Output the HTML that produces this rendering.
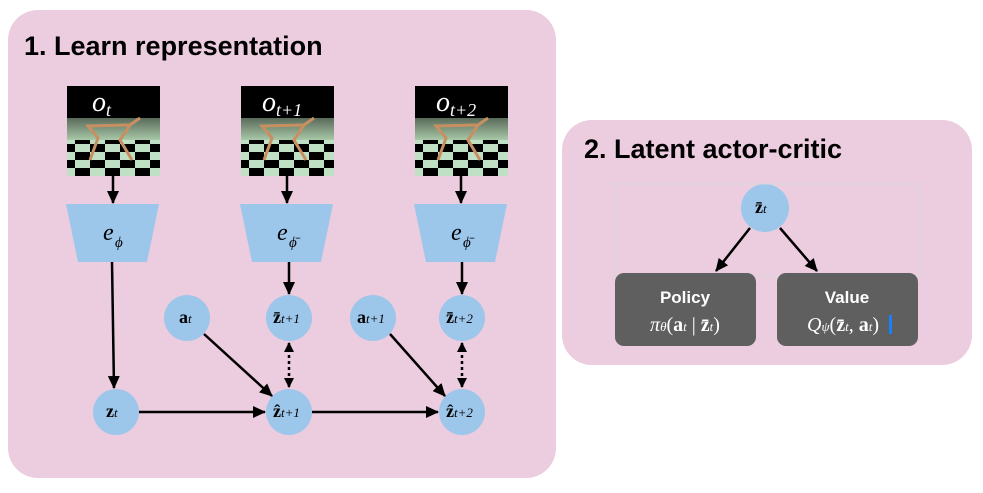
<!DOCTYPE html><html><head><style>body{margin:0;background:#fff}svg{display:block}</style></head><body>
<svg width="983" height="493" viewBox="0 0 983 493" xmlns="http://www.w3.org/2000/svg" font-family="Liberation Serif, serif">
<defs><marker id="ah" markerWidth="13" markerHeight="12" refX="12" refY="6" orient="auto" markerUnits="userSpaceOnUse"><path d="M0,0 L13,6 L0,12 z" fill="#000"/></marker>
<marker id="ah2" markerWidth="10" markerHeight="10" refX="9" refY="5" orient="auto-start-reverse" markerUnits="userSpaceOnUse"><path d="M0,0 L10,5 L0,10 z" fill="#000"/></marker>
<linearGradient id="fl" x1="0" y1="0" x2="0" y2="1"><stop offset="0" stop-color="#5a6a5a"/><stop offset="1" stop-color="#a8c8a8"/></linearGradient>
<pattern id="ck" width="30" height="16" patternUnits="userSpaceOnUse"><rect width="30" height="16" fill="#bfe0c4"/><rect width="15" height="8" fill="#000"/><rect x="15" y="8" width="15" height="8" fill="#000"/></pattern></defs>
<rect x="8" y="10" width="548" height="468" rx="30" fill="#ecccdf"/>
<rect x="562" y="120" width="410" height="245" rx="30" fill="#ecccdf"/>
<text x="24" y="55" font-family="Liberation Sans, sans-serif" font-weight="bold" font-size="27">1. Learn representation</text>
<text x="584" y="158" font-family="Liberation Sans, sans-serif" font-weight="bold" font-size="27">2. Latent actor-critic</text>
<g id="img">
<rect x="67" y="86" width="93" height="90" fill="#000"/>
<rect x="67" y="118" width="93" height="22" fill="url(#fl)"/>
<rect x="67" y="140" width="93" height="36" fill="url(#ck)"/>
<path d="M90,160 L98,138 L88,126 L130,125 L140,118 M130,125 L120,140 L132,160" stroke="#c89060" stroke-width="3" fill="none"/>
</g>
<use href="#img" x="174"/><use href="#img" x="348"/>
<g fill="#fff" font-style="italic" font-size="28"><text x="92" y="111">o</text><text x="106" y="116" font-size="18">t</text>
<text x="262" y="111">o</text><text x="276" y="116" font-size="18">t+1</text>
<text x="436" y="111">o</text><text x="450" y="116" font-size="18">t+2</text></g>
<g fill="#9dc6eb"><path d="M66,204 L159,204 L147,262 L78,262z"/><path d="M240,204 L333,204 L321,262 L252,262z"/><path d="M414,204 L507,204 L495,262 L426,262z"/>
<circle cx="116" cy="412" r="23"/><circle cx="187" cy="318" r="23"/><circle cx="289" cy="318" r="23"/><circle cx="289" cy="412" r="23"/><circle cx="373" cy="318" r="23"/><circle cx="462" cy="318" r="23"/><circle cx="462" cy="412" r="23"/><circle cx="765" cy="208" r="24"/></g>
<g font-style="italic" font-size="24"><text x="103" y="240">e</text><text x="115" y="247" font-size="15">ϕ</text>
<text x="277" y="240">e</text><text x="289" y="247" font-size="15">ϕ̄</text>
<text x="451" y="240">e</text><text x="463" y="247" font-size="15">ϕ̄</text></g>
<g font-size="18" font-weight="bold"><text x="106" y="417">z<tspan font-size="13" font-style="italic" font-weight="normal">t</tspan></text>
<text x="179" y="323">a<tspan font-size="13" font-style="italic" font-weight="normal">t</tspan></text>
<text x="273" y="323">z̄<tspan font-size="13" font-style="italic" font-weight="normal">t+1</tspan></text>
<text x="273" y="417">ẑ<tspan font-size="13" font-style="italic" font-weight="normal">t+1</tspan></text>
<text x="357" y="323">a<tspan font-size="13" font-style="italic" font-weight="normal">t+1</tspan></text>
<text x="446" y="323">z̄<tspan font-size="13" font-style="italic" font-weight="normal">t+2</tspan></text>
<text x="446" y="417">ẑ<tspan font-size="13" font-style="italic" font-weight="normal">t+2</tspan></text>
<text x="755" y="213">z̄<tspan font-size="13" font-style="italic" font-weight="normal">t</tspan></text></g>
<g stroke="#000" stroke-width="2.5" marker-end="url(#ah)">
<line x1="113" y1="176" x2="113" y2="203"/><line x1="287" y1="176" x2="287" y2="203"/><line x1="461" y1="176" x2="461" y2="203"/>
<line x1="112" y1="262" x2="114" y2="388"/><line x1="289" y1="262" x2="289" y2="294"/><line x1="462" y1="262" x2="462" y2="294"/>
<line x1="139" y1="412" x2="265" y2="412"/><line x1="312" y1="412" x2="438" y2="412"/>
<line x1="204" y1="334" x2="272" y2="396"/><line x1="390" y1="334" x2="445" y2="396"/>
<line x1="750" y1="228" x2="716" y2="271"/><line x1="780" y1="228" x2="817" y2="271"/></g>
<g stroke="#000" stroke-width="2.5" stroke-dasharray="3,3" marker-end="url(#ah2)" marker-start="url(#ah2)">
<line x1="289" y1="343" x2="289" y2="387"/><line x1="462" y1="343" x2="462" y2="387"/></g>
<rect x="614" y="184" width="305" height="92" fill="none" stroke="#d8d8d8" stroke-width="1"/>
<rect x="615" y="273" width="141" height="73" rx="9" fill="#5f5f5f"/>
<rect x="777" y="273" width="141" height="73" rx="9" fill="#5f5f5f"/>
<g fill="#fff" text-anchor="middle"><text x="685" y="303" font-family="Liberation Sans, sans-serif" font-weight="bold" font-size="17">Policy</text>
<text x="847" y="303" font-family="Liberation Sans, sans-serif" font-weight="bold" font-size="17">Value</text>
<text x="685" y="331" font-size="20"><tspan font-style="italic">π</tspan><tspan font-size="13" font-style="italic">θ</tspan>(<tspan font-weight="bold">a</tspan><tspan font-size="13" font-style="italic">t</tspan> | <tspan font-weight="bold">z̄</tspan><tspan font-size="13" font-style="italic">t</tspan>)</text>
<text x="843" y="331" font-size="20"><tspan font-style="italic">Q</tspan><tspan font-size="13" font-style="italic">ψ</tspan>(<tspan font-weight="bold">z̄</tspan><tspan font-size="13" font-style="italic">t</tspan>, <tspan font-weight="bold">a</tspan><tspan font-size="13" font-style="italic">t</tspan>)</text></g>
<rect x="889" y="315" width="3" height="19" fill="#1a7fff"/>
</svg></body></html>
